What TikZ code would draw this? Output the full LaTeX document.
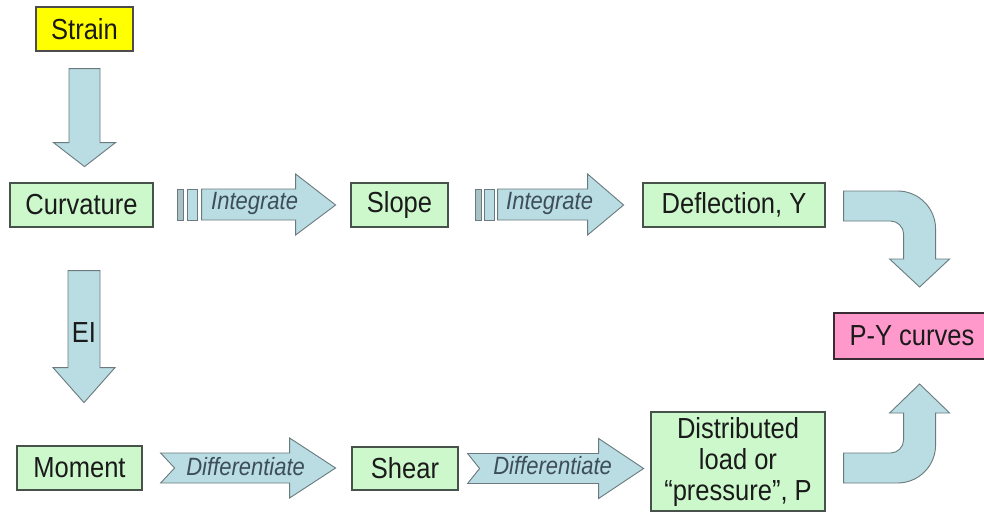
\documentclass[tikz,border=0pt]{standalone}
\usepackage{fontspec}
\setmainfont{Liberation Sans}[FakeStretch=0.88]
\usetikzlibrary{calc}
\definecolor{boxgreen}{HTML}{CCF8CC}
\definecolor{boxline}{HTML}{46524A}
\definecolor{arrblue}{HTML}{B9DDE2}
\definecolor{arrbar}{HTML}{A9C2C6}
\definecolor{arrline}{HTML}{6A7A7E}
\definecolor{pinkbox}{HTML}{FF99CC}
\definecolor{pinkline}{HTML}{3A2A33}
\definecolor{yelbox}{HTML}{FFFF00}
\definecolor{txt}{HTML}{1A1A1A}
\definecolor{lbltxt}{HTML}{3D4D5A}
\begin{document}
\begin{tikzpicture}[x=1pt,y=-1pt]
\tikzset{
 box/.style={draw=boxline, line width=1.2pt, fill=boxgreen, inner sep=0pt, text=txt,
   font=\fontsize{29}{31}\selectfont, align=center},
 arr/.style={draw=arrline, line width=0.9pt, fill=arrblue, line join=miter},
 lbl/.style={text=lbltxt, font=\fontsize{25}{27}\selectfont\itshape, inner sep=0pt, anchor=base},
}
\fill[white] (0,0) rectangle (984,516);
\useasboundingbox (0,0) rectangle (984,516);

% boxes
\node[box, fill=yelbox, draw=black!70, minimum width=97pt, minimum height=44pt] (strain) at (84.5,29) {Strain};
\node[box, minimum width=143pt, minimum height=44pt] (curv) at (81.5,205) {Curvature};
\node[box, minimum width=97pt, minimum height=44pt] (slope) at (399.5,205) {Slope};
\node[box, minimum width=182pt, minimum height=44pt] (defl) at (734,205) {Deflection, Y};
\node[box, fill=pinkbox, draw=pinkline, minimum width=156pt, minimum height=46pt] (py) at (912,336) {P-Y curves};
\node[box, minimum width=125pt, minimum height=44pt] (moment) at (79.5,468) {Moment};
\node[box, minimum width=106pt, minimum height=43pt] (shear) at (405,468.5) {Shear};
\node[box, minimum width=174pt, minimum height=99pt] (dist) at (738,461.5) {Distributed\\load or\\“pressure”, P};

% Strain -> Curvature
\begin{scope}[shift={(strain.south)}]
\draw[arr] (-15.5,17) -- (15.5,17) -- (15.5,91) -- (31,91) -- (0,115) -- (-31,91) -- (-15.5,91) -- cycle;
\end{scope}

% Curvature -> Moment (EI)
\begin{scope}[shift={(curv.south)}]
\draw[arr] (-13.5,43) -- (18.5,43) -- (18.5,140) -- (33.5,140) -- (2.5,175) -- (-28.5,140) -- (-13.5,140) -- cycle;
\node[text=txt, font=\fontsize{29}{31}\selectfont, inner sep=0pt] (ei) at (2.5,105) {EI};
\end{scope}

% Curvature -> Slope (Integrate)
\begin{scope}[shift={(curv.east)}]
\draw[arr, fill=arrbar] (24,-16) rectangle (30,15);
\draw[arr] (34,-16) rectangle (44,15);
\draw[arr] (48,-16) -- (142,-16) -- (142,-31) -- (182,0) -- (142,30) -- (142,15) -- (48,15) -- cycle;
\node[lbl] (int1) at (101,4) {Integrate};
\end{scope}

% Slope -> Deflection (Integrate)
\begin{scope}[shift={(slope.east)}]
\draw[arr, fill=arrbar] (27,-16) rectangle (33,15);
\draw[arr] (36,-16) rectangle (46,15);
\draw[arr] (49,-16) -- (139,-16) -- (139,-31) -- (175,0) -- (139,30) -- (139,15) -- (49,15) -- cycle;
\node[lbl] (int2) at (101,4) {Integrate};
\end{scope}

% Moment -> Shear (Differentiate)
\begin{scope}[shift={(moment.east)}]
\draw[arr] (18,-15) -- (147,-15) -- (147,-30) -- (193,0) -- (147,30) -- (147,15) -- (18,15) -- (32,0) -- cycle;
\node[lbl] (dif1) at (103,7) {Differentiate};
\end{scope}

% Shear -> Distributed (Differentiate)
\begin{scope}[shift={(shear.east)}]
\draw[arr] (9,-15) -- (140,-15) -- (140,-30) -- (185,0) -- (140,30) -- (140,15) -- (9,15) -- (21,0) -- cycle;
\node[lbl] (dif2) at (94,6) {Differentiate};
\end{scope}

% Deflection -> P-Y curves
\begin{scope}[shift={(defl.east)}]
\draw[arr] (18,-14) -- (72,-14) .. controls (93,-14) and (110,3) .. (110,24) -- (110,54) -- (124,54) -- (94,82) -- (64,54) -- (78,54) -- (78,29) .. controls (78,22) and (72,16) .. (65,16) -- (18,16) -- cycle;
\end{scope}

% Distributed -> P-Y curves
\begin{scope}[shift={(dist.east)}]
\draw[arr] (18,-8.5) -- (65,-8.5) .. controls (72,-8.5) and (78,-14.5) .. (78,-21.5) -- (78,-48.5) -- (64,-48.5) -- (94,-77.5) -- (124,-48.5) -- (110,-48.5) -- (110,-16.5) .. controls (110,4.5) and (93,21.5) .. (72,21.5) -- (18,21.5) -- cycle;
\end{scope}
\end{tikzpicture}
\end{document}
